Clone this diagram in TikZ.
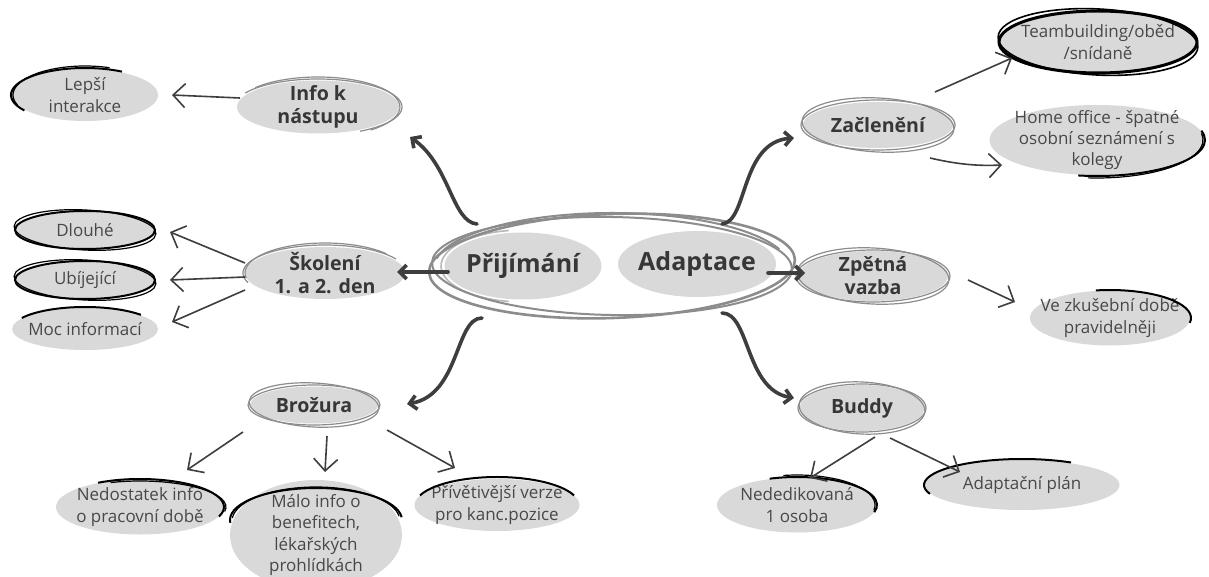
\documentclass[tikz,border=0pt]{standalone}
\usepackage{fontspec}
\setmainfont{Open Sans}
\usetikzlibrary{shapes.geometric,arrows.meta}
\definecolor{gfill}{RGB}{217,217,217}
\definecolor{tdark}{RGB}{55,55,55}
\definecolor{treg}{RGB}{72,72,72}
\definecolor{arr}{RGB}{62,62,62}
\definecolor{sgray}{RGB}{140,140,140}
\definecolor{lgray}{RGB}{185,185,185}
\tikzset{
 bub/.style={ellipse, fill=gfill, draw=none, inner sep=0pt},
 maintxt/.style={font=\fontsize{12.5}{15}\selectfont\bfseries, text=tdark, inner sep=0pt},
 sectxt/.style={font=\fontsize{9.8}{11.5}\selectfont\bfseries, text=tdark, align=center, inner sep=0pt},
 leaftxt/.style={font=\fontsize{8.5}{10.6}\selectfont, text=treg, align=center, inner sep=0pt},
 thin/.style={draw=arr, line width=0.8pt, -{Straight Barb[length=6pt,width=12pt]}},
 thick/.style={draw=arr, line width=1.8pt, line cap=round, -{Straight Barb[length=3.5pt,width=7pt]}},
 gsk/.style={draw=sgray, line width=0.6pt},
 bsk/.style={draw=black, line width=1pt},
}
% bubble: style, name, position, width, height, text
\newcommand\bubble[6]{%
 \node[bub, minimum width=#4, minimum height=#5] (#2) at (#3) {};
 \node[#1] (#2-t) at (#2.center) {#6};}
% sketch arc: style, centre, rx, ry, angle1, angle2
\newcommand\skarc[6]{%
 \path #2 coordinate (skc);
 \draw[#1] ([shift={(#5:#3 and #4)}]skc) arc[start angle=#5, end angle=#6, x radius=#3, y radius=#4];}
\begin{document}
\begin{tikzpicture}[x=0.5pt,y=-0.5pt]
\fill[white] (0,0) rectangle (1209,577);
\clip (0,0) rectangle (1209,577);

% central
\bubble{maintxt}{prij}{523,266}{78.5pt}{33.5pt}{Přijímání}
\bubble{maintxt}{adap}{697,264}{79pt}{33pt}{Adaptace}
\skarc{draw=lgray, line width=0.8pt}{(prij.center)}{82}{36}{-260}{-100}
\draw[draw=sgray, line width=1.3pt, rotate around={2:(612,266)}] (612,266) ellipse[x radius=183, y radius=52];
\draw[draw=sgray, line width=1pt, rotate around={-1:(612,266)}] (612,266) ellipse[x radius=180, y radius=49];
\skarc{draw=sgray, line width=1pt}{(612,268)}{178}{55}{-170}{-20}

% left side
\bubble{sectxt}{info}{318,107}{81pt}{26.5pt}{Info k\\nástupu}
\skarc{gsk}{(info.center)}{84}{28}{-150}{60}
\skarc{gsk}{(info.center)}{82}{30}{-140}{50}
\bubble{leaftxt}{lepsi}{85,95}{73pt}{26pt}{Lepší\\interakce}
\skarc{bsk}{(lepsi.center)}{74}{27}{-215}{-60}
\skarc{draw=black, line width=0.6pt}{(lepsi.center)}{72}{29}{-200}{-70}

\bubble{sectxt}{skol}{325,273}{80pt}{26pt}{Školení\\1. a 2. den}
\skarc{gsk}{(skol.center)}{82}{28}{-200}{-30}
\skarc{gsk}{(skol.center)}{80}{30}{-190}{-40}
\bubble{leaftxt}{dlouhe}{85,230}{69pt}{18pt}{Dlouhé}
\draw[bsk] (dlouhe.center) ellipse[x radius=70, y radius=19];
\draw[draw=black, line width=0.6pt, rotate around={-3:(dlouhe.center)}] (dlouhe.center) ellipse[x radius=71, y radius=20];
\bubble{leaftxt}{ubij}{85,280}{69pt}{18pt}{Ubíjející}
\draw[bsk] (ubij.center) ellipse[x radius=70, y radius=19];
\draw[draw=black, line width=0.6pt, rotate around={-3:(ubij.center)}] (ubij.center) ellipse[x radius=71, y radius=20];
\bubble{leaftxt}{moc}{85,329}{73pt}{21pt}{Moc informací}
\skarc{bsk}{(moc.center)}{73}{22}{-150}{-40}

\bubble{sectxt}{broz}{314,405}{64pt}{18.5pt}{Brožura}
\draw[gsk] (broz.center) ellipse[x radius=66, y radius=20];
\draw[gsk, rotate around={-3:(broz.center)}] (broz.center) ellipse[x radius=65, y radius=22];
\bubble{leaftxt}{nedos}{140,507}{84pt}{27.5pt}{Nedostatek info\\o pracovní době}
\skarc{bsk}{(nedos.center)}{84}{28}{-120}{20}
\skarc{draw=black, line width=0.6pt}{(nedos.center)}{86}{26}{-110}{10}
\bubble{leaftxt}{malo}{316,535}{86pt}{55pt}{Málo info o\\benefitech,\\lékařských\\prohlídkách}
\skarc{bsk}{(316,520)}{86}{32}{-185}{-5}
\skarc{draw=black, line width=0.6pt}{(316,521)}{84}{34}{-175}{-8}
\bubble{leaftxt}{privet}{497,505}{82.5pt}{26pt}{Přívětivější verze\\pro kanc.pozice}
\skarc{bsk}{(privet.center)}{82}{28}{-160}{-20}

% right side
\bubble{sectxt}{zacl}{878,125}{75pt}{23pt}{Začlenění}
\draw[gsk] (zacl.center) ellipse[x radius=77, y radius=25];
\draw[gsk, rotate around={-3:(zacl.center)}] (zacl.center) ellipse[x radius=76, y radius=27];
\bubble{leaftxt}{team}{1098,42}{97.5pt}{30pt}{Teambuilding/oběd\\/snídaně}
\draw[draw=black, line width=1.5pt] (team.center) ellipse[x radius=99, y radius=31];
\draw[draw=black, line width=0.8pt, rotate around={-3:(team.center)}] (team.center) ellipse[x radius=100, y radius=33];
\bubble{leaftxt}{home}{1097,140}{107.5pt}{35pt}{Home office - špatné\\osobní seznámení s\\kolegy}
\skarc{bsk}{(home.center)}{108}{36}{-15}{100}
\skarc{draw=black, line width=0.6pt}{(home.center)}{106}{38}{-10}{95}

\bubble{sectxt}{zpet}{873,276}{75pt}{25pt}{Zpětná\\vazba}
\draw[gsk] (zpet.center) ellipse[x radius=77, y radius=26];
\draw[gsk, rotate around={-3:(zpet.center)}] (zpet.center) ellipse[x radius=76, y radius=28];
\bubble{leaftxt}{ve}{1110,318}{80pt}{27.5pt}{Ve zkušební době\\pravidelněji}
\skarc{bsk}{(ve.center)}{81}{28}{-100}{10}

\bubble{sectxt}{buddy}{862,408}{62.5pt}{23pt}{Buddy}
\draw[gsk] (buddy.center) ellipse[x radius=64, y radius=24];
\draw[gsk, rotate around={-3:(buddy.center)}] (buddy.center) ellipse[x radius=63, y radius=26];
\bubble{leaftxt}{neded}{797,505}{80pt}{27.5pt}{Nededikovaná\\1 osoba}
\skarc{bsk}{(neded.center)}{80}{28}{-110}{15}
\skarc{draw=black, line width=0.6pt}{(neded.center)}{78}{30}{-100}{10}
\bubble{leaftxt}{adplan}{1022,485}{97.5pt}{25pt}{Adaptační plán}
\skarc{bsk}{(adplan.center)}{98}{26}{-200}{-60}

% thick connectors
\draw[thick] ([shift={(-75,6)}]prij.center) -- ([shift={(72,-1)}]skol.center);
\draw[thick] ([shift={(71,9)}]adap.center) -- ([shift={(-68,-3)}]zpet.center);
\draw[thick] ([shift={(-46,-42)}]prij.center) .. controls (452,222) and (450,165) .. ([shift={(92,30)}]info.center);
\draw[thick] ([shift={(-41,52)}]prij.center) .. controls (455,318) and (460,395) .. ([shift={(93,-1)}]broz.center);
\draw[thick] ([shift={(25,-40)}]adap.center) .. controls (748,222) and (740,142) .. ([shift={(-84,13)}]zacl.center);
\draw[thick] ([shift={(25,49)}]adap.center) .. controls (750,313) and (745,390) .. ([shift={(-68,-10)}]buddy.center);

% thin connectors
\draw[thin] ([shift={(-78,-9)}]info.center) -- ([shift={(87,0)}]lepsi.center);
\draw[thin] ([shift={(-80,-10)}]skol.center) -- ([shift={(85,2)}]dlouhe.center);
\draw[thin] ([shift={(-80,4)}]skol.center) -- ([shift={(85,0)}]ubij.center);
\draw[thin] ([shift={(-80,17)}]skol.center) -- ([shift={(87,-7)}]moc.center);
\draw[thin] ([shift={(-71,27)}]broz.center) -- ([shift={(47,-37)}]nedos.center);
\draw[thin] ([shift={(13,31)}]broz.center) -- ([shift={(9,-63)}]malo.center);
\draw[thin] ([shift={(73,25)}]broz.center) -- ([shift={(-42,-37)}]privet.center);
\draw[thin] ([shift={(57,-33)}]zacl.center) -- ([shift={(-86,16)}]team.center);
\draw[thin] ([shift={(52,33)}]zacl.center) .. controls (960,165) and (980,166) .. ([shift={(-95,25)}]home.center);
\draw[thin] ([shift={(95,4)}]zpet.center) -- ([shift={(-95,-16)}]ve.center);
\draw[thin] ([shift={(13,29)}]buddy.center) -- ([shift={(13,-27)}]neded.center);
\draw[thin] ([shift={(28,30)}]buddy.center) -- ([shift={(-62,-13)}]adplan.center);
\end{tikzpicture}
\end{document}
